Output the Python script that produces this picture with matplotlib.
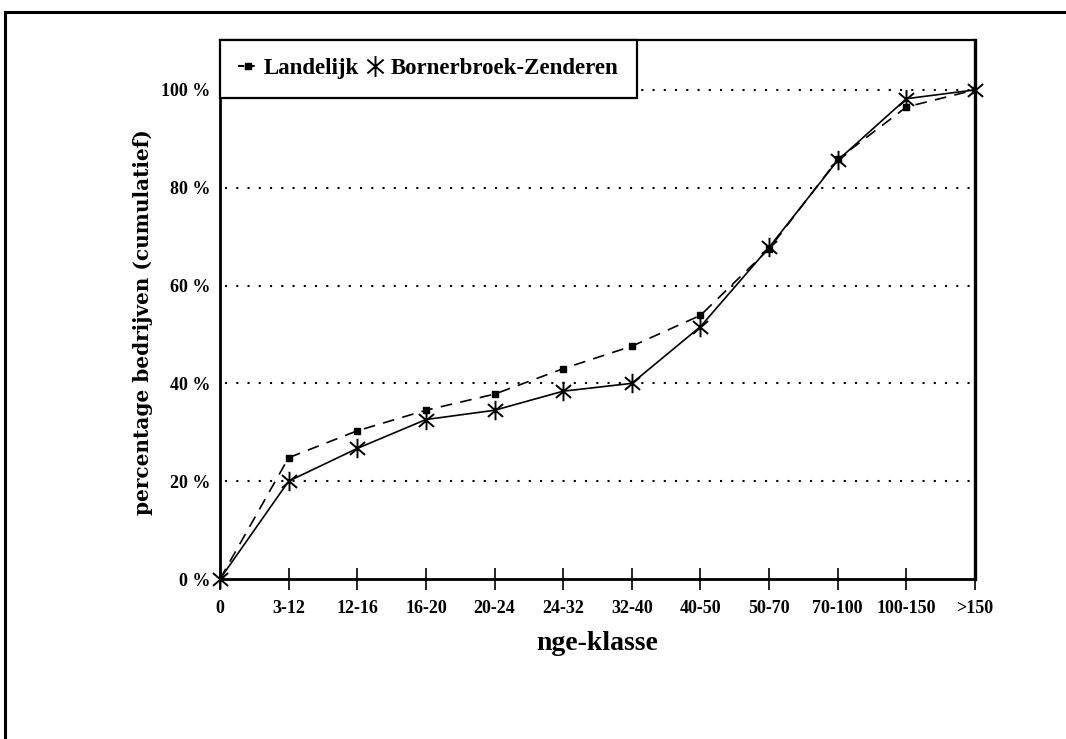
import matplotlib
matplotlib.use("Agg")
import matplotlib.pyplot as plt
from matplotlib.lines import Line2D
from matplotlib.path import Path

categories = ["0", "3-12", "12-16", "16-20", "20-24", "24-32", "32-40",
              "40-50", "50-70", "70-100", "100-150", ">150"]
landelijk = [0, 24.8, 30.3, 34.5, 37.8, 43.0, 47.6, 53.9, 67.5, 85.8, 96.5, 100]
bornerbroek = [0, 20.0, 26.7, 32.6, 34.5, 38.4, 40.0, 51.6, 67.8, 85.6, 98.2, 100]
yticks = [0, 20, 40, 60, 80, 100]
ytick_labels = ["0 %", "20 %", "40 %", "60 %", "80 %", "100 %"]

plt.rcParams['font.family'] = ['Liberation Serif', 'DejaVu Serif']
plt.rcParams['font.weight'] = 'bold'

# asterisk marker: vertical bar plus an X
d = 0.78
star = Path([(0, -1), (0, 1), (-d, -d * 0.85), (d, d * 0.85), (-d, d * 0.85), (d, -d * 0.85)],
            [Path.MOVETO, Path.LINETO, Path.MOVETO, Path.LINETO, Path.MOVETO, Path.LINETO])

W, H = 1066, 739
fig = plt.figure(figsize=(W / 100, H / 100), dpi=100)
fig.patch.set_facecolor('white')

# outer frame
fig.add_artist(Line2D([5 / W, 5 / W], [0, 1 - 12 / H], color='black', lw=2.2,
                      transform=fig.transFigure))
fig.add_artist(Line2D([5 / W, 1], [1 - 12 / H, 1 - 12 / H], color='black', lw=2.2,
                      transform=fig.transFigure))

left, right, top, bottom = 220, 975, 40, 579
ax = fig.add_axes([left / W, 1 - bottom / H, (right - left) / W, (bottom - top) / H])

x = list(range(len(categories)))
ax.plot(x, landelijk, color='black', lw=1.2, dashes=(7, 5), marker='s',
        markersize=4.5, zorder=3)
ax.plot(x, bornerbroek, color='black', lw=1.2, linestyle='-', marker=star,
        markersize=14, markeredgewidth=1.4, zorder=4, clip_on=False)

ax.set_xlim(0, len(categories) - 1)
ax.set_ylim(0, 110.2)

for yv in yticks[1:]:
    ax.axhline(yv, color='black', lw=1.5, linestyle=(3, (1, 4.4)), zorder=1)

ax.set_xticks(x)
ax.set_xticklabels(categories, fontsize=13, fontweight='bold')
ax.set_yticks(yticks)
ax.set_yticklabels(ytick_labels, fontsize=13, fontweight='bold')
ax.tick_params(axis='x', direction='inout', length=16, width=1.2, pad=7)
ax.tick_params(axis='y', length=0, pad=7)

for s in ax.spines.values():
    s.set_linewidth(1.6)
ax.spines['left'].set_linewidth(2)
ax.spines['bottom'].set_linewidth(2)
ax.spines['right'].set_linewidth(2.4)

ax.set_xlabel("nge-klasse", fontsize=20, fontweight='bold', labelpad=10)
ax.set_ylabel("percentage bedrijven (cumulatief)", fontsize=14.4,
              fontweight='bold', family=['DejaVu Serif'])
ax.yaxis.set_label_coords((153 - left) / (right - left), (579 - 322) / (579 - 40))

h1 = Line2D([0, 1], [0, 0], color='black', lw=1.5, dashes=(3, 2), marker='s',
            markersize=4.5, markevery=[1])
h2 = Line2D([], [], color='black', lw=0, marker=star, markersize=15,
            markeredgewidth=1.4)
leg = ax.legend([h1, h2], ["Landelijk", "Bornerbroek-Zenderen"], loc='upper left',
                bbox_to_anchor=(0, 1), ncol=2, frameon=True, fancybox=False,
                framealpha=1, edgecolor='black', borderaxespad=0,
                prop={'size': 16.5, 'weight': 'bold'}, handlelength=0.8,
                handletextpad=0.3, columnspacing=0.3, borderpad=0.8)
leg.get_frame().set_linewidth(1.6)
leg.set_zorder(10)

fig.savefig("out.png", dpi=100, facecolor='white')
